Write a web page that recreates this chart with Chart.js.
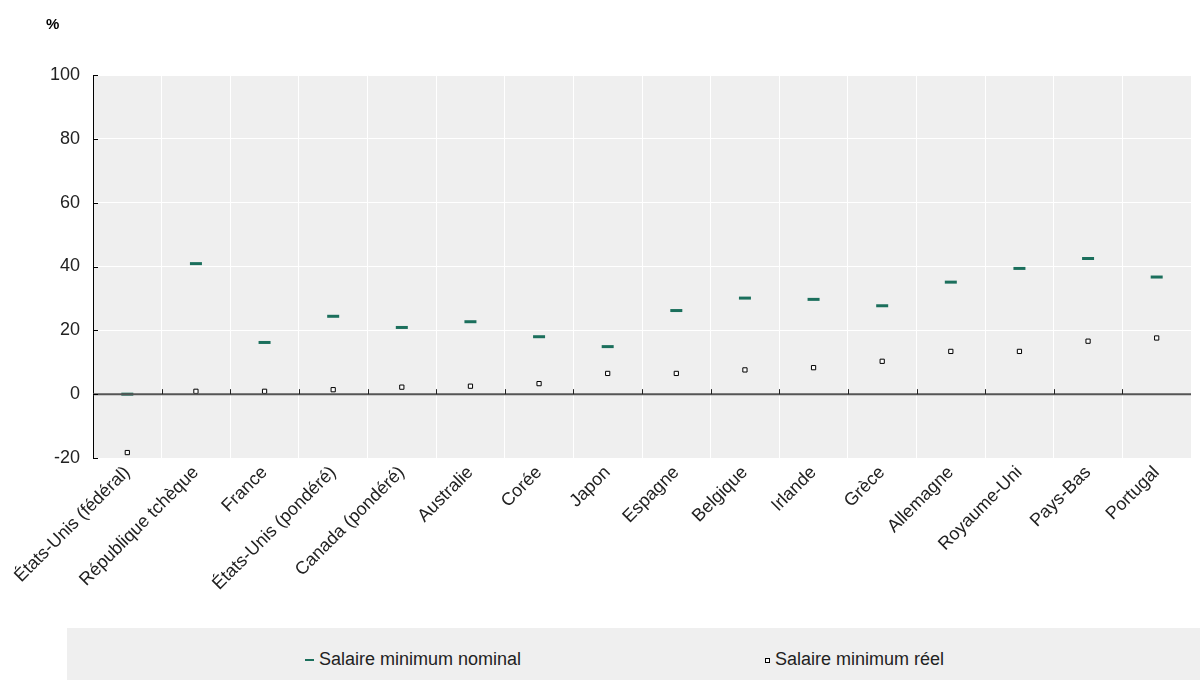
<!DOCTYPE html>
<html lang="fr">
<head>
    <meta charset="UTF-8">
    <script src="https://cdn.jsdelivr.net/npm/chart.js"></script>
    <style>
        body {
            margin: 0;
            background: #ffffff;
            font-family: 'Liberation Sans', Arial, sans-serif;
        }
        .wrap {
            position: relative;
            width: 1200px;
            height: 680px;
        }
        .legend {
            position: absolute;
            left: 67px;
            top: 628px;
            width: 1133px;
            height: 52px;
            background: #efefef;
            font-size: 18px;
            color: #222;
        }
        .legend span {
            position: absolute;
            top: 21px;
            line-height: 20px;
        }
        .dash {
            display: inline-block;
            width: 9px;
            height: 2px;
            background: #1b6f5c;
            vertical-align: middle;
            margin-right: 5px;
        }
        .sq {
            display: inline-block;
            width: 3px;
            height: 3px;
            border: 1px solid #000;
            background: #fff;
            vertical-align: middle;
            margin-right: 5px;
        }
    </style>
</head>
<body>
<div class="wrap">
    <canvas id="chart" width="1200" height="680"></canvas>
    <div class="legend">
        <span style="left:238px"><i class="dash"></i>Salaire minimum nominal</span>
        <span style="left:698px"><i class="sq"></i>Salaire minimum réel</span>
    </div>
</div>
<script>
const countries = ['États-Unis (fédéral)', 'République tchèque', 'France', 'États-Unis (pondéré)', 'Canada (pondéré)',
    'Australie', 'Corée', 'Japon', 'Espagne', 'Belgique', 'Irlande', 'Grèce', 'Allemagne', 'Royaume-Uni', 'Pays-Bas', 'Portugal'];
const nominal = [0, 40.9, 16.2, 24.4, 20.9, 22.7, 18.0, 14.9, 26.2, 30.1, 29.7, 27.7, 35.1, 39.4, 42.5, 36.7];
const real = [-18.3, 0.9, 0.9, 1.4, 2.2, 2.5, 3.3, 6.5, 6.5, 7.6, 8.3, 10.3, 13.4, 13.4, 16.6, 17.6];
const yTicks = [-20, 0, 20, 40, 60, 80, 100];

// grey plot background, zero line, small inner ticks, "%" label
const decor = {
    id: 'decor',
    beforeDraw(chart) {
        const { ctx, chartArea: a } = chart;
        ctx.save();
        ctx.fillStyle = '#efefef';
        ctx.fillRect(a.left, a.top, a.right - a.left, a.bottom - a.top);
        ctx.restore();
    },
    afterDatasetsDraw(chart) {
        const { ctx, chartArea: a, scales } = chart;
        const y0 = scales.y.getPixelForValue(0);
        ctx.save();
        ctx.strokeStyle = '#555';
        ctx.lineWidth = 2;
        ctx.beginPath();
        ctx.moveTo(a.left, y0);
        ctx.lineTo(a.right, y0);
        ctx.stroke();
        ctx.lineWidth = 1;
        ctx.strokeStyle = '#222';
        const step = (a.right - a.left) / countries.length;
        for (let i = 1; i < countries.length; i++) {
            const x = Math.round(a.left + step * i) + 0.5;
            ctx.beginPath();
            ctx.moveTo(x, y0 - 5);
            ctx.lineTo(x, y0);
            ctx.stroke();
        }
        ctx.strokeStyle = '#000';
        yTicks.forEach(v => {
            const y = Math.round(scales.y.getPixelForValue(v)) + 0.5;
            ctx.beginPath();
            ctx.moveTo(a.left, y);
            ctx.lineTo(a.left + 5, y);
            ctx.stroke();
        });
        ctx.fillStyle = '#000';
        ctx.font = 'bold 15px "Liberation Sans", Arial, sans-serif';
        ctx.fillText('%', 46, 29);
        ctx.restore();
    }
};

new Chart(document.getElementById('chart'), {
    type: 'line',
    data: {
        labels: countries,
        datasets: [{
            label: 'Salaire minimum nominal',
            data: nominal,
            showLine: false,
            pointStyle: 'line',
            pointRadius: 6,
            pointBorderWidth: 3,
            pointBorderColor: '#1b6f5c',
            pointBackgroundColor: '#1b6f5c'
        }, {
            label: 'Salaire minimum réel',
            data: real,
            showLine: false,
            pointStyle: 'rect',
            pointRadius: 3,
            pointBorderWidth: 1,
            pointBorderColor: '#000',
            pointBackgroundColor: '#fff'
        }]
    },
    options: {
        responsive: false,
        animation: false,
        layout: { padding: { top: 75, right: 0, left: 0, bottom: 0 } },
        plugins: {
            legend: { display: false },
            tooltip: { enabled: false }
        },
        scales: {
            x: {
                offset: true,
                grid: { color: '#ffffff', lineWidth: 1, offset: true, drawTicks: false },
                border: { display: false },
                ticks: {
                    autoSkip: false,
                    maxRotation: 45,
                    minRotation: 45,
                    padding: 4,
                    color: '#222',
                    font: { family: "'Liberation Sans', Arial, sans-serif", size: 18 }
                },
                afterFit(scale) { scale.height = 222; }
            },
            y: {
                min: -20,
                max: 100,
                afterBuildTicks(scale) { scale.ticks = yTicks.map(v => ({ value: v })); },
                grid: { color: '#ffffff', lineWidth: 1, drawTicks: false },
                border: { display: true, color: '#000', width: 1 },
                ticks: {
                    padding: 13,
                    color: '#222',
                    font: { family: "'Liberation Sans', Arial, sans-serif", size: 18 }
                },
                afterFit(scale) { scale.width = 93; }
            }
        }
    },
    plugins: [decor]
});
</script>
</body>
</html>
